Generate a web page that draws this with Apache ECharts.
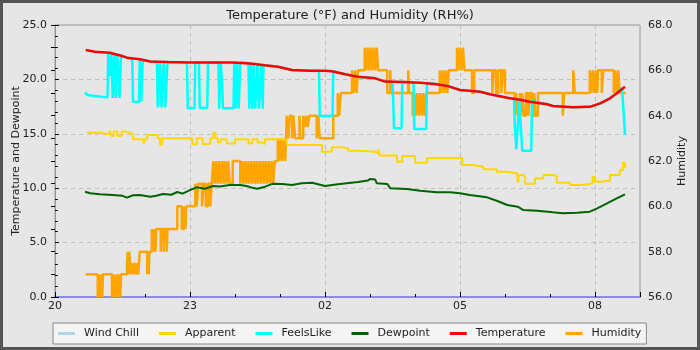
<!DOCTYPE html>
<html>
<head>
<meta charset="utf-8">
<script src="https://cdn.jsdelivr.net/npm/echarts@6/dist/echarts.min.js"></script>
<style>
  html, body { margin: 0; padding: 0; background: #e6e6e6; }
  #chart { width: 700px; height: 350px; }
</style>
</head>
<body>
<div id="chart"></div>
<script>
// All times are minutes after 20:00; the axis runs to 09:00 (780 min).
const hourTicks = ['20', '23', '02', '05', '08'];

const tempTime = [41, 53, 73, 87, 96, 113, 127, 150, 180, 210, 237, 260, 280, 297, 316, 340, 360, 369, 387, 404,
  427, 440, 465, 487, 509, 523, 540, 567, 580, 603, 620, 633, 656, 664, 690, 713, 727, 740, 749, 760];
const tempVal = [22.7, 22.55, 22.45, 22.2, 22.0, 21.85, 21.65, 21.6, 21.55, 21.55, 21.55, 21.47, 21.3, 21.17, 20.86, 20.8, 20.8, 20.75, 20.47, 20.25,
  20.1, 19.8, 19.75, 19.7, 19.55, 19.4, 19.03, 18.87, 18.63, 18.32, 18.13, 17.95, 17.71, 17.55, 17.45, 17.48, 17.8, 18.26, 18.72, 19.33];

const dewTime = [40, 47, 60, 77, 90, 96, 104, 113, 127, 135, 144, 155, 163, 170, 180, 189, 200, 211, 220, 233,
  247, 255, 263, 270, 280, 290, 303, 316, 329, 343, 360, 377, 395, 404, 417, 420, 427, 429, 443, 447,
  469, 487, 509, 527, 540, 553, 576, 589, 603, 617, 624, 643, 664, 677, 696, 713, 723, 736, 749, 760];
const dewVal = [9.68, 9.53, 9.45, 9.37, 9.3, 9.13, 9.35, 9.37, 9.22, 9.3, 9.47, 9.4, 9.65, 9.5, 9.83, 10.08, 9.95, 10.2, 10.15, 10.29,
  10.3, 10.2, 10.05, 9.95, 10.14, 10.4, 10.39, 10.3, 10.45, 10.5, 10.2, 10.36, 10.5, 10.57, 10.7, 10.85, 10.8, 10.45, 10.39, 10.0,
  9.93, 9.77, 9.62, 9.62, 9.53, 9.37, 9.16, 8.85, 8.46, 8.3, 8.0, 7.93, 7.78, 7.69, 7.75, 7.84, 8.15, 8.6, 9.07, 9.44];

// Apparent temperature, held until the next reading
const appTime = [43, 60, 70, 73, 75, 78, 83, 89, 93, 100, 104, 118, 120, 123, 137, 140, 143, 183, 189, 197,
  207, 211, 214, 217, 221, 229, 240, 258, 263, 270, 276, 280, 303, 309, 356, 369, 383, 391, 405, 427,
  431, 433, 456, 463, 480, 496, 543, 557, 571, 589, 603, 616, 617, 619, 624, 627, 640, 651, 664, 669,
  687, 700, 713, 717, 720, 727, 740, 753, 757, 760];
const appVal = [15.1, 14.98, 15.0, 15.3, 14.8, 15.2, 14.8, 15.2, 15.1, 14.98, 14.5, 14.1, 14.5, 14.9, 14.6, 14.0, 14.6, 14.03, 14.6, 14.06,
  14.6, 15.1, 14.6, 14.2, 14.5, 14.1, 14.5, 14.1, 14.5, 14.2, 14.06, 14.5, 14.43, 13.97, 13.36, 13.76, 13.66, 13.45, 13.35, 13.2,
  13.57, 13.0, 12.44, 12.96, 12.35, 12.78, 12.13, 11.98, 11.74, 11.52, 11.37, 11.21, 10.5, 11.21, 11.06, 10.4, 10.9, 11.21, 11.12, 10.5,
  10.3, 10.39, 10.5, 11.06, 10.6, 10.69, 11.21, 11.67, 12.35, 11.83];

const feelsTime = [40, 42, 43, 62, 70, 71, 72, 73, 74, 75, 76, 77, 78, 79, 80, 81, 82, 83, 84, 85,
  86, 87, 88, 96, 103, 104, 112, 113, 114, 115, 116, 117, 127, 136, 137, 139, 140, 141, 142, 144,
  145, 146, 147, 149, 150, 176, 177, 186, 187, 192, 193, 203, 204, 218, 219, 220, 221, 222, 223, 224,
  238, 239, 240, 241, 242, 243, 244, 245, 246, 247, 258, 259, 260, 261, 262, 263, 264, 265, 266, 267,
  269, 270, 271, 272, 274, 275, 276, 277, 278, 297, 316, 340, 352, 353, 370, 371, 387, 404, 427, 440,
  450, 451, 452, 462, 463, 478, 479, 495, 496, 509, 523, 540, 567, 580, 603, 612, 613, 615, 616, 617,
  618, 619, 620, 621, 622, 623, 635, 636, 656, 664, 690, 713, 727, 740, 749, 756, 757, 758, 759, 760];
const feelsVal = [18.8, 18.8, 18.57, 18.4, 18.35, 22.35, 22.35, 20.3, 20.3, 22.35, 22.35, 18.3, 18.3, 22.3, 22.3, 18.3, 18.3, 22.2, 22.2, 20.2,
  18.3, 18.3, 22.2, 22.0, 21.85, 17.95, 17.95, 21.85, 21.85, 17.95, 17.95, 21.8, 21.65, 21.6, 17.43, 17.43, 21.6, 21.6, 17.43, 17.43,
  21.6, 21.6, 17.43, 17.43, 21.6, 21.55, 17.34, 17.34, 21.55, 21.55, 17.4, 17.4, 21.55, 21.55, 17.3, 17.3, 21.55, 21.55, 19.3, 17.34,
  17.34, 21.55, 21.55, 17.34, 17.34, 21.55, 21.55, 17.34, 17.34, 21.55, 21.5, 17.3, 17.3, 21.47, 21.47, 17.3, 17.3, 21.45, 21.45, 17.3,
  17.3, 21.4, 21.4, 17.3, 17.3, 21.35, 21.35, 17.3, 21.3, 21.17, 20.86, 20.8, 20.8, 16.63, 16.63, 20.75, 20.47, 20.25, 20.1, 19.8,
  19.77, 17.86, 15.5, 15.5, 19.75, 19.72, 15.44, 15.44, 19.7, 19.55, 19.4, 19.03, 18.87, 18.63, 18.32, 18.2, 15.96, 13.57, 13.57, 15.65,
  15.65, 18.1, 18.1, 15.65, 15.65, 13.45, 13.45, 18.0, 17.71, 17.55, 17.45, 17.48, 17.8, 18.26, 18.72, 19.2, 19.25, 17.19, 17.19, 14.89];

const windChillTime = [];
const windChillVal = [];

// Relative humidity readings, each held until the next one
const humTime = [41, 57, 59, 60, 62, 63, 64, 76, 78, 80, 82, 83, 85, 87, 88, 96, 97, 98, 99, 101,
  102, 104, 106, 108, 110, 111, 113, 123, 124, 125, 126, 129, 131, 132, 134, 135, 141, 142, 145, 146,
  149, 150, 163, 169, 172, 174, 175, 187, 189, 191, 196, 198, 201, 204, 207, 209, 211, 213, 215, 217,
  219, 221, 223, 225, 227, 229, 231, 233, 237, 247, 249, 251, 253, 255, 257, 259, 261, 263, 265, 267,
  269, 271, 273, 275, 277, 279, 281, 283, 285, 287, 289, 291, 293, 297, 299, 301, 303, 305, 307, 309,
  311, 313, 316, 318, 320, 326, 327, 331, 333, 335, 337, 339, 349, 351, 353, 371, 377, 379, 381, 396,
  398, 400, 402, 404, 413, 415, 417, 419, 421, 423, 425, 427, 429, 431, 443, 447, 448, 471, 472, 477,
  479, 481, 483, 485, 487, 489, 491, 493, 495, 513, 515, 517, 519, 521, 523, 525, 536, 538, 540, 542,
  544, 546, 556, 559, 583, 585, 588, 591, 595, 597, 600, 613, 615, 617, 620, 621, 623, 625, 628, 631,
  633, 636, 639, 641, 644, 677, 679, 691, 693, 713, 715, 717, 719, 721, 723, 724, 729, 731, 745, 747,
  749, 751, 753, 761];
const humVal = [57, 56, 57, 56, 57, 56, 57, 56, 57, 56, 57, 56, 57, 56, 57, 57.5, 58, 57, 58, 57,
  57.5, 57, 57.5, 57, 57.5, 57, 58, 57, 58, 57, 58, 59, 58, 59, 58, 59, 58, 59, 58, 59,
  58, 59, 60, 59, 60, 59, 60, 61, 60, 61, 60, 61, 60, 61, 60, 61, 62, 61, 62, 61,
  62, 61, 62, 61, 62, 61, 62, 61, 62, 61, 62, 61, 62, 61, 62, 61, 62, 61, 62, 61,
  62, 61, 62, 61, 62, 61, 62, 61, 62, 61, 62, 61, 62, 63, 62, 63, 62, 63, 62, 64,
  63, 64, 63, 64, 63, 64, 63, 64, 63.5, 64, 63.5, 64, 63, 64, 63, 64, 65, 64, 65, 66,
  65, 66, 65, 66, 67, 66, 67, 66, 67, 66, 67, 66, 67, 66, 65, 66, 65, 66, 65, 64,
  65, 64, 65, 64, 65, 64, 65, 64, 65, 66, 65, 66, 65, 66, 65, 66, 67, 66, 67, 66,
  67, 66, 65, 66, 65, 66, 65, 66, 65, 66, 65, 64, 65, 64, 65, 64, 65, 64, 65, 64,
  65, 64, 65, 64, 65, 64, 65, 66, 65, 66, 65, 66, 65, 66, 65, 66, 65, 66, 65, 66,
  65, 66, 65, 65];

const pairs = (t, v) => t.map((x, i) => [x, v[i]]);
const font = 'DejaVu Sans';
const hourLabel = v => {
  if (v % 180 !== 0) return '';
  return hourTicks[v / 180] || '';
};

const chart = echarts.init(document.getElementById('chart'), null, { renderer: 'canvas' });

const lineSeries = (name, time, vals, color, width, extra) => Object.assign({
  name, type: 'line', data: pairs(time, vals), color,
  showSymbol: false, symbol: 'none', lineStyle: { color, width },
  emphasis: { disabled: true }
}, extra || {});

chart.setOption({
  animation: false,
  backgroundColor: '#e6e6e6',
  title: {
    text: 'Temperature (°F) and Humidity (RH%)',
    left: 'center', top: 4,
    textStyle: { fontFamily: font, fontSize: 13, fontWeight: 'normal', color: '#222' }
  },
  graphic: [{
    type: 'rect', silent: true, z: 100,
    shape: { x: 1.5, y: 1.5, width: 697, height: 347 },
    style: { fill: 'none', stroke: '#555', lineWidth: 3 }
  }],
  legend: {
    data: ['Wind Chill', 'Apparent', 'FeelsLike', 'Dewpoint', 'Temperature', 'Humidity'],
    left: 53, top: 323,
    padding: [5, 5],
    itemGap: 20, itemWidth: 17, itemHeight: 3, icon: 'rect',
    backgroundColor: '#f4f4f4', borderColor: '#888', borderWidth: 1,
    textStyle: { fontFamily: font, fontSize: 11, color: '#222', padding: [0, 0, 0, 4] }
  },
  grid: {
    left: 55, right: 60, top: 25, bottom: 53,
    show: true, borderColor: '#999', borderWidth: 1, backgroundColor: 'transparent',
    containLabel: false, outerBoundsMode: 'none'
  },
  xAxis: [{
    type: 'value', min: 0, max: 780, interval: 180,
    axisLine: { show: true, onZero: false, lineStyle: { color: '#8c8ce6', width: 2 } },
    axisTick: { show: true, inside: true, length: 5, lineStyle: { color: '#000' } },
    splitLine: { show: true, lineStyle: { color: '#bdbdbd', type: [4, 4] } },
    axisLabel: { margin: 4, formatter: hourLabel, fontFamily: font, fontSize: 11, color: '#222' }
  }, {
    type: 'value', min: 0, max: 780, interval: 60, position: 'bottom',
    axisLine: { show: false },
    axisTick: { show: true, inside: true, length: 3, lineStyle: { color: '#000' } },
    axisLabel: { show: false },
    splitLine: { show: false }
  }],
  yAxis: [{
    type: 'value', min: 0, max: 25, interval: 5,
    name: 'Temperature and Dewpoint', nameLocation: 'middle', nameGap: 33, nameMoveOverlap: false,
    nameTextStyle: { fontFamily: font, fontSize: 11, color: '#222' },
    axisLine: { show: true, lineStyle: { color: '#999' } },
    axisTick: { show: true, inside: true, length: 4, lineStyle: { color: '#000' } },
    minorTick: { show: true, splitNumber: 5, length: 3, lineStyle: { color: '#000' } },
    splitLine: { show: true, lineStyle: { color: '#bdbdbd', type: [4, 4] } },
    axisLabel: { margin: 8, formatter: v => v.toFixed(1), fontFamily: font, fontSize: 11, color: '#222' }
  }, {
    type: 'value', min: 56, max: 68, interval: 2, position: 'right',
    name: 'Humidity', nameLocation: 'middle', nameGap: 37, nameRotate: 90, nameMoveOverlap: false,
    nameTextStyle: { fontFamily: font, fontSize: 11, color: '#222' },
    axisLine: { show: true, lineStyle: { color: '#999' } },
    axisTick: { show: true, inside: true, length: 4, lineStyle: { color: '#000' } },
    minorTick: { show: true, splitNumber: 2, length: 4, lineStyle: { color: '#000' } },
    splitLine: { show: false },
    axisLabel: { margin: 8, formatter: v => v.toFixed(1), fontFamily: font, fontSize: 11, color: '#222' }
  }],
  series: [
    lineSeries('Humidity', humTime, humVal, '#ffa500', 2.5, { yAxisIndex: 1, step: 'end' }),
    lineSeries('Wind Chill', windChillTime, windChillVal, '#add8e6', 2),
    lineSeries('Apparent', appTime, appVal, '#ffd700', 2, { step: 'end' }),
    lineSeries('FeelsLike', feelsTime, feelsVal, '#00ffff', 2.5),
    lineSeries('Dewpoint', dewTime, dewVal, '#006400', 2),
    lineSeries('Temperature', tempTime, tempVal, '#ff0000', 2.5)
  ]
});
</script>
</body>
</html>
